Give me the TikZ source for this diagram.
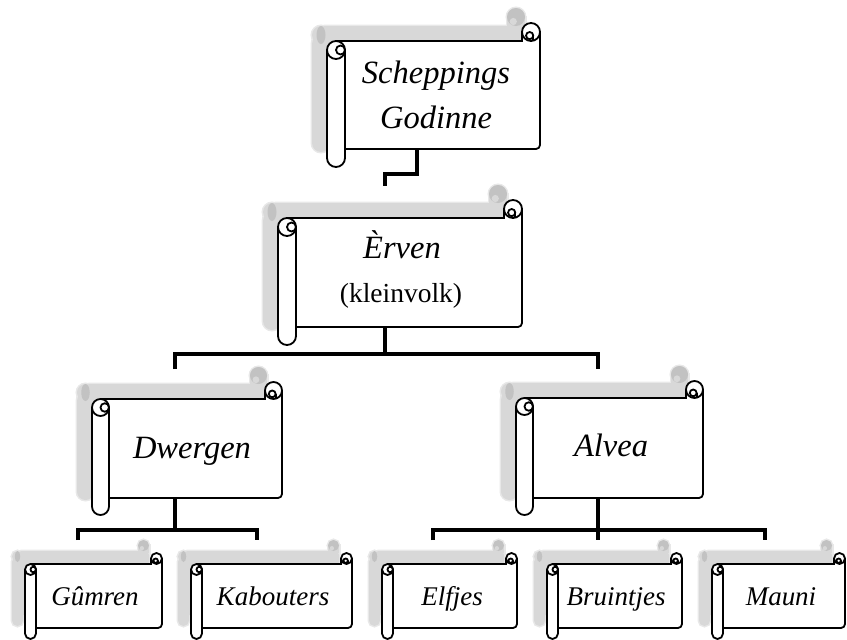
\documentclass[tikz,border=0pt]{standalone}
\usepackage{fontspec}
\setmainfont{Liberation Serif}
\newfontfamily\callig{Liberation Serif}
\definecolor{shadowc}{HTML}{D8D8D8}
\definecolor{shadowlight}{HTML}{E8E8E8}
\definecolor{shadowdark}{HTML}{C2C2C2}
\tikzset{
  outl/.style={draw=black, line width=1.8pt},
  big/.style={font=\callig\itshape\fontsize{32.5}{32.5}\selectfont, inner sep=0pt, anchor=base},
  small/.style={font=\callig\itshape\fontsize{27}{27}\selectfont, inner sep=0pt, anchor=base},
  klein/.style={font=\fontsize{27.5}{27.5}\selectfont, inner sep=0pt, anchor=base},
  conn/.style={draw=black, line width=4pt, line join=miter, line cap=butt}
}
\newcommand\shpieces[1]{%
  \path[#1,rounded corners=4pt] (\sL+\sH,\sT+\sC) -- (\sR,\sT+\sC) -- (\sR,\sB-\sC) -- (\sL+\sH,\sB-\sC) -- cycle;
  \path[#1] (\sR-\sC,\sT+\sH) rectangle (\sR,\sT+\sC+2);
  \path[#1] (\sR-\sH,\sT+\sH) circle[radius=\sH];
  \path[#1,rounded corners=\sH pt] (\sL,\sT+\sC+\sH) -- (\sL,\sB) -- (\sL+\sC,\sB) -- (\sL+\sC,\sT+\sC+\sH) -- cycle;
  \path[#1] (\sL+\sH,\sT+\sC+\sH) circle[radius=\sH];
}
\newcommand\scrollshape[6]{%
  \pgfmathsetmacro\sL{#1}%
  \pgfmathsetmacro\sT{#2}%
  \pgfmathsetmacro\sR{#3}%
  \pgfmathsetmacro\sB{#4}%
  \pgfmathsetmacro\sC{#5}%
  \pgfmathsetmacro\sH{#5/2}%
  \pgfmathsetmacro\sQ{#5/4}%
  \begin{scope}[shift={(-#6,-#6)}]
    \shpieces{draw=shadowlight,fill=shadowlight,line width=3pt}
    \shpieces{fill=shadowc}
    \fill[shadowdark] (\sL+\sH,\sT+\sC+\sH) ellipse[x radius=\sQ,y radius=\sH];
    \fill[shadowdark] (\sR-\sH,\sT+\sH) circle[radius=\sH];
    \fill[shadowc] (\sR-\sH-\sQ*0.6,\sT+\sH+\sQ) circle[radius=\sQ*0.8];
  \end{scope}
  \fill[white] (\sL+\sH,\sT+\sC) rectangle (\sR,\sB-\sC-3);
  \fill[white] (\sL+\sH,\sT+\sC) rectangle (\sR-4,\sB-\sC);
  \fill[white] (\sR-\sC,\sT+\sH) rectangle (\sR,\sT+\sC);
  \draw[outl] (\sL+\sH,\sT+\sC) -- (\sR-\sC,\sT+\sC) -- (\sR-\sC,\sT+\sH);
  \draw[outl,rounded corners=4pt] (\sR,\sT+\sH) -- (\sR,\sB-\sC) -- (\sL+\sC,\sB-\sC);
  \filldraw[outl,fill=white] (\sR-\sH,\sT+\sH) circle[radius=\sH];
  \draw[outl] (\sR-\sH-\sQ*0.3,\sT+\sH+\sQ*0.8) circle[radius=\sQ*0.8];
  \draw[outl] (\sR-\sH+\sQ*0.5,\sT+\sH+\sQ*0.8) -- (\sR-\sH+\sQ*0.5,\sT+\sC);
  \filldraw[outl,fill=white,rounded corners=\sH pt] (\sL,\sT+\sC+\sH) -- (\sL,\sB) -- (\sL+\sC,\sB) -- (\sL+\sC,\sT+\sC+\sH);
  \filldraw[outl,fill=white] (\sL+\sH,\sT+\sC+\sH) circle[radius=\sH];
  \draw[outl] (\sL+\sH+\sQ,\sT+\sC+\sH) circle[radius=\sQ];
}
\begin{document}
\begin{tikzpicture}[x=1pt,y=-1pt]
\useasboundingbox (0,0) rectangle (847,640);
% scrolls
\scrollshape{327}{23}{540}{167}{18}{15}
\scrollshape{278}{200}{522}{345}{18}{15}
\scrollshape{92}{382}{282}{515}{17}{15}
\scrollshape{516}{381}{703}{515}{17}{15}
\scrollshape{25}{553}{162}{639}{11}{13}
\scrollshape{191}{553}{352}{639}{11}{13}
\scrollshape{382}{553}{517}{639}{11}{13}
\scrollshape{547}{553}{682}{639}{11}{13}
\scrollshape{712}{553}{845}{639}{11}{13}
% texts
\node[big] (sg) at (436,83) {Scheppings};
\node[big] (sg2) at (436,128) {Godinne};
\node[big] (er) at (402,258) {Èrven};
\node[klein] (er2) at (401,302) {(kleinvolk)};
\node[big] (dw) at (192,458) {Dwergen};
\node[big] (al) at (611,456) {Alvea};
\node[small] (gu) at (95,605) {Gûmren};
\node[small] (ka) at (273,605) {Kabouters};
\node[small] (el) at (452,605) {Elfjes};
\node[small] (br) at (616,605) {Bruintjes};
\node[small] (ma) at (781,605) {Mauni};
% connector anchors
\coordinate (sgb) at (417,148);
\coordinate (j1) at (400,174);
\coordinate (ert) at (385,186);
\coordinate (erb) at (385,327);
\coordinate (j2) at (385,354);
\coordinate (dwt) at (175,369);
\coordinate (alt) at (598,369);
\coordinate (dwb) at (175,498);
\coordinate (j3) at (175,530);
\coordinate (gut) at (78,540);
\coordinate (kat) at (257,540);
\coordinate (alb) at (598,497);
\coordinate (j4) at (598,530);
\coordinate (elt) at (433,540);
\coordinate (brt) at (598,540);
\coordinate (mat) at (765,540);
% connectors
\draw[conn] (sgb) -- (sgb |- j1) -| (ert);
\draw[conn] (erb) -- (j2);
\draw[conn] (dwt) -- (dwt |- j2) -- (alt |- j2) -- (alt);
\draw[conn] (dwb) -- (j3);
\draw[conn] (gut) -- (gut |- j3) -- (kat |- j3) -- (kat);
\draw[conn] (alb) -- (j4);
\draw[conn] (elt) -- (elt |- j4) -- (mat |- j4) -- (mat);
\draw[conn] (j4) -- (brt);
\end{tikzpicture}
\end{document}
